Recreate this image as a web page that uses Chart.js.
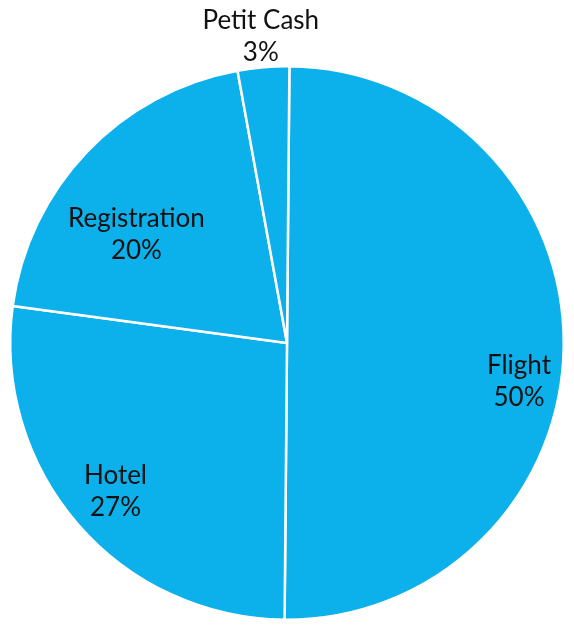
<!DOCTYPE html>
<html>
<head>
    <title>Expenses</title>
    <script src="https://cdn.jsdelivr.net/npm/chart.js"></script>
    <style>
        html, body { margin: 0; padding: 0; background: #fff; }
        #wrap { width: 574px; height: 631px; }
    </style>
</head>
<body>
    <div id="wrap"><canvas id="expenseChart" width="574" height="631"></canvas></div>

    <script>
        // Data
        const categories = ['Flight', 'Hotel', 'Registration', 'Petit Cash'];
        const shares = [50, 27, 20, 3];

        // label placement: [radius fraction, angle shift in degrees]
        const labelPlace = [[0.85, 9], [0.82, 0], [0.67, -8], [1.11, 0]];

        const pieLabels = {
            id: 'pieLabels',
            afterDatasetsDraw(chart) {
                const ctx = chart.ctx;
                const meta = chart.getDatasetMeta(0);
                ctx.save();
                ctx.fillStyle = '#111';
                ctx.font = '26px Lato, "DejaVu Sans", sans-serif';
                ctx.textAlign = 'center';
                ctx.textBaseline = 'middle';
                meta.data.forEach((arc, i) => {
                    const p = labelPlace[i];
                    const mid = (arc.startAngle + arc.endAngle) / 2 + p[1] * Math.PI / 180;
                    const r = arc.outerRadius * p[0];
                    const x = arc.x + Math.cos(mid) * r;
                    const y = arc.y + Math.sin(mid) * r;
                    ctx.fillText(categories[i], x, y - 16);
                    ctx.fillText(shares[i] + '%', x, y + 16);
                });
                ctx.restore();
            }
        };

        const ctx = document.getElementById('expenseChart').getContext('2d');
        const expenseChart = new Chart(ctx, {
            type: 'pie',
            data: {
                labels: categories,
                datasets: [{
                    data: shares,
                    backgroundColor: '#0CB0EB',
                    borderColor: '#ffffff',
                    borderWidth: 2.5
                }]
            },
            options: {
                responsive: false,
                animation: false,
                rotation: 0.5,
                layout: { padding: { top: 65, bottom: 10, left: 0, right: 0 } },
                plugins: {
                    legend: { display: false },
                    tooltip: { enabled: false }
                }
            },
            plugins: [pieLabels]
        });
    </script>
</body>
</html>
